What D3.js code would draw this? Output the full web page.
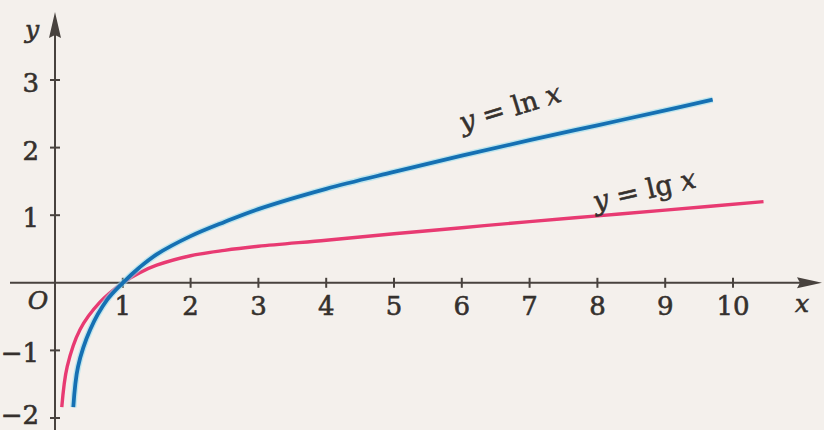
<!DOCTYPE html>
<html>
<head>
<meta charset="utf-8">
<script src="https://cdn.jsdelivr.net/npm/d3@7"></script>
<style>
  html, body { margin: 0; padding: 0; background: #f4f0ec; }
  svg { display: block; }
  text {
    font-family: "DejaVu Serif", "Liberation Serif", serif;
    fill: #35302d;
    stroke: #35302d;
    stroke-width: 0.6px;
  }
</style>
</head>
<body>
<script>
// values
var xTicks = [1, 2, 3, 4, 5, 6, 7, 8, 9, 10];
var yTicks = [-2, -1, 1, 2, 3];
var xTickLabels = ["1", "2", "3", "4", "5", "6", "7", "8", "9", "10"];
var yTickLabels = ["\u22122", "\u22121", "1", "2", "3"];

var lnX = [0.27, 0.34, 0.52, 0.77, 1, 1.25, 1.5, 2, 2.5, 3, 4, 5, 6, 7, 8, 9, 9.7];
var lnY = [-1.84, -1.24, -0.69, -0.25, 0, 0.23, 0.42, 0.69, 0.9, 1.09, 1.39, 1.64, 1.88, 2.11, 2.33, 2.55, 2.71];

var lgX = [0.1, 0.18, 0.37, 0.66, 1, 1.25, 1.5, 2, 2.5, 3, 4, 5, 6, 7, 8, 9, 10.45];
var lgY = [-1.84, -1.24, -0.69, -0.29, 0, 0.15, 0.26, 0.4, 0.48, 0.54, 0.63, 0.725, 0.815, 0.905, 0.99, 1.075, 1.2];

var width = 824, height = 430;
var axisColor = "#48423e";

var svg = d3.select("body").append("svg")
    .attr("width", width)
    .attr("height", height);

var x = d3.scaleLinear().domain([0, 10]).range([55, 733]);
var y = d3.scaleLinear().domain([-2, 3]).range([418, 80]);

// axes
svg.append("line")
    .attr("x1", 10).attr("x2", 805)
    .attr("y1", y(0)).attr("y2", y(0))
    .attr("stroke", axisColor).attr("stroke-width", 2);
svg.append("path")
    .attr("d", "M822," + y(0) + " L797," + (y(0) - 5.5) + " L800," + y(0) + " L797," + (y(0) + 5.5) + " Z")
    .attr("fill", axisColor);

svg.append("line")
    .attr("x1", x(0)).attr("x2", x(0))
    .attr("y1", 430).attr("y2", 30)
    .attr("stroke", axisColor).attr("stroke-width", 2);
svg.append("path")
    .attr("d", "M" + x(0) + ",12 L" + (x(0) - 6) + ",38 L" + x(0) + ",35 L" + (x(0) + 6) + ",38 Z")
    .attr("fill", axisColor);

// ticks
svg.selectAll(".xtick").data(xTicks).enter().append("line")
    .attr("class", "xtick")
    .attr("x1", function(d) { return x(d); })
    .attr("x2", function(d) { return x(d); })
    .attr("y1", y(0) - 5).attr("y2", y(0) + 5)
    .attr("stroke", axisColor).attr("stroke-width", 2);

svg.selectAll(".ytick").data(yTicks).enter().append("line")
    .attr("class", "ytick")
    .attr("x1", x(0) - 5).attr("x2", x(0) + 5)
    .attr("y1", function(d) { return y(d); })
    .attr("y2", function(d) { return y(d); })
    .attr("stroke", axisColor).attr("stroke-width", 2);

svg.selectAll(".xlabel").data(xTicks).enter().append("text")
    .attr("class", "xlabel")
    .attr("x", function(d) { return x(d); })
    .attr("y", y(0) + 32)
    .attr("text-anchor", "middle")
    .style("font-size", "26px")
    .text(function(d, i) { return xTickLabels[i]; });

svg.selectAll(".ylabel").data(yTicks).enter().append("text")
    .attr("class", "ylabel")
    .attr("x", x(0) - 16)
    .attr("y", function(d) { return Math.min(y(d) + 12, 424); })
    .attr("text-anchor", "end")
    .style("font-size", "26px")
    .text(function(d, i) { return yTickLabels[i]; });

svg.append("text")
    .attr("x", 38).attr("y", y(0) + 26)
    .attr("text-anchor", "middle")
    .style("font-size", "25px").style("font-style", "italic")
    .text("O");
svg.append("text")
    .attr("x", 802).attr("y", y(0) + 29)
    .attr("text-anchor", "middle")
    .style("font-size", "25px").style("font-style", "italic")
    .text("x");
svg.append("text")
    .attr("x", 32).attr("y", 38)
    .attr("text-anchor", "middle")
    .style("font-size", "25px").style("font-style", "italic")
    .text("y");

// curves
var line = d3.line()
    .x(function(d) { return x(d[0]); })
    .y(function(d) { return y(d[1]); })
    .curve(d3.curveCatmullRom.alpha(0.5));

var lnPts = d3.zip(lnX, lnY);
var lgPts = d3.zip(lgX, lgY);

svg.append("path").datum(lgPts)
    .attr("d", line)
    .attr("fill", "none")
    .attr("stroke", "#e83a72")
    .attr("stroke-width", 3.4);

svg.append("path").datum(lnPts)
    .attr("d", line)
    .attr("fill", "none")
    .attr("stroke", "#8fdcef")
    .attr("stroke-opacity", 0.55)
    .attr("stroke-width", 6.5);
svg.append("path").datum(lnPts)
    .attr("d", line)
    .attr("fill", "none")
    .attr("stroke", "#1570b3")
    .attr("stroke-width", 3.8);

// curve labels
function curveLabel(cx, cy, angle, fn) {
    var t = svg.append("text")
        .attr("transform", "translate(" + cx + "," + cy + ") rotate(" + angle + ")")
        .attr("text-anchor", "middle")
        .style("font-size", "27px");
    t.append("tspan").style("font-style", "italic").text("y");
    t.append("tspan").text(" = " + fn + " ");
    t.append("tspan").style("font-style", "italic").text("x");
}
curveLabel(x(6.75), y(2.46), -17, "ln");
curveLabel(x(8.72), y(1.24), -13, "lg");
</script>
</body>
</html>
